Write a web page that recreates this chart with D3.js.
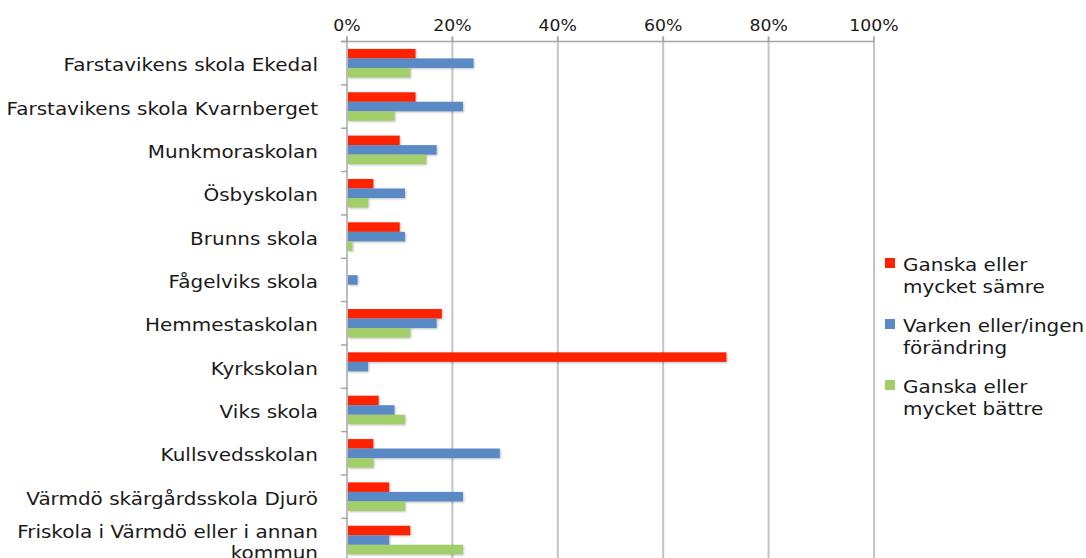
<!DOCTYPE html>
<html>
<head>
<meta charset="utf-8">
<script src="https://cdn.jsdelivr.net/npm/d3@7"></script>
<style>
  body { margin: 0; background: #fff; }
  text { font-family: 'DejaVu Sans', Verdana, sans-serif; fill: #1a1a1a; }
</style>
</head>
<body>
<div id="chart"></div>
<script>
const schools = [
  'Farstavikens skola Ekedal',
  'Farstavikens skola Kvarnberget',
  'Munkmoraskolan',
  'Ösbyskolan',
  'Brunns skola',
  'Fågelviks skola',
  'Hemmestaskolan',
  'Kyrkskolan',
  'Viks skola',
  'Kullsvedsskolan',
  'Värmdö skärgårdsskola Djurö',
  'Friskola i Värmdö eller i annan kommun'
]

const seriesNames = ['Ganska eller mycket sämre', 'Varken eller/ingen förändring', 'Ganska eller mycket bättre']
const seriesColors = ['#ff2200', '#5a8ac6', '#a3cf6a']

const worse = [13, 13, 10, 5, 10, 0, 18, 72, 6, 5, 8, 12]
const same = [24, 22, 17, 11, 11, 2, 17, 4, 9, 29, 22, 8]
const better = [12, 9, 15, 4, 1, 0, 12, 0, 11, 5, 11, 22]

const ticks = [0, 0.2, 0.4, 0.6, 0.8, 1]

const width = 1086
const height = 558
const margin = { top: 41.5, left: 347, right: 212 }
// text in the original is a bit wider than DejaVu Sans
const stretch = 1.08

const datapoints = schools.map((name, i) => ({
  name,
  values: [worse[i], same[i], better[i]]
}))

const svg = d3
  .select('#chart')
  .append('svg')
  .attr('width', width)
  .attr('height', height)

const xScale = d3
  .scaleLinear()
  .domain([0, 1])
  .range([margin.left, width - margin.right])

const yScale = d3
  .scaleBand()
  .domain(schools)
  .range([margin.top, margin.top + schools.length * 43.35])

const innerScale = d3
  .scaleBand()
  .domain(seriesNames)
  .range([0, yScale.bandwidth()])
  .paddingInner(0)
  .paddingOuter(0.78)

const plotBottom = height + 10

// grid lines
svg
  .append('g')
  .selectAll('line')
  .data(ticks.slice(1))
  .enter()
  .append('line')
  .attr('x1', d => xScale(d))
  .attr('x2', d => xScale(d))
  .attr('y1', margin.top - 5)
  .attr('y2', plotBottom)
  .attr('stroke', '#c4c4c4')
  .attr('stroke-width', 2)

// top axis line
svg
  .append('line')
  .attr('x1', xScale(0) - 6)
  .attr('x2', xScale(1))
  .attr('y1', margin.top)
  .attr('y2', margin.top)
  .attr('stroke', '#a6a6a6')
  .attr('stroke-width', 1.5)

svg
  .append('g')
  .selectAll('line')
  .data(ticks)
  .enter()
  .append('line')
  .attr('x1', d => xScale(d))
  .attr('x2', d => xScale(d))
  .attr('y1', margin.top - 5)
  .attr('y2', margin.top)
  .attr('stroke', '#a6a6a6')
  .attr('stroke-width', 1.5)

svg
  .append('g')
  .selectAll('text')
  .data(ticks)
  .enter()
  .append('text')
  .attr('transform', d => `translate(${xScale(d)},25) scale(${stretch},1)`)
  .attr('text-anchor', 'middle')
  .attr('dy', '0.35em')
  .attr('font-size', 16)
  .text(d3.format('.0%'))

// left axis
svg
  .append('line')
  .attr('x1', xScale(0))
  .attr('x2', xScale(0))
  .attr('y1', margin.top - 5)
  .attr('y2', plotBottom)
  .attr('stroke', '#a6a6a6')
  .attr('stroke-width', 1.5)

svg
  .append('g')
  .selectAll('line')
  .data(schools.concat(['end']))
  .enter()
  .append('line')
  .attr('x1', xScale(0) - 6)
  .attr('x2', xScale(0))
  .attr('y1', (d, i) => margin.top + i * yScale.step())
  .attr('y2', (d, i) => margin.top + i * yScale.step())
  .attr('stroke', '#a6a6a6')
  .attr('stroke-width', 1.5)

// bars
const groups = svg
  .append('g')
  .selectAll('g')
  .data(datapoints)
  .enter()
  .append('g')
  .attr('transform', d => `translate(0,${yScale(d.name)})`)

groups
  .selectAll('rect')
  .data(d => d.values.map((v, i) => ({ series: seriesNames[i], value: v, color: seriesColors[i] })))
  .enter()
  .append('rect')
  .attr('x', xScale(0) + 1)
  .attr('y', d => innerScale(d.series))
  .attr('width', d => Math.max(0, xScale(d.value / 100) - xScale(0) - 1))
  .attr('height', innerScale.bandwidth())
  .attr('fill', d => d.color)
  .style('filter', 'drop-shadow(1px 1px 1px rgba(0,0,0,0.25))')

// category labels
const labels = svg
  .append('g')
  .selectAll('text')
  .data(schools)
  .enter()
  .append('text')
  .attr('text-anchor', 'end')
  .attr('font-size', 18.5)
  .attr('transform', d => `translate(318,${yScale(d) + yScale.bandwidth() / 2 + 1.5}) scale(${stretch},1)`)

labels.each(function(d) {
  const el = d3.select(this)
  const lines = d.length > 33 ? ['Friskola i Värmdö eller i annan', 'kommun'] : [d]
  const lineHeight = 21
  const first = lines.length > 1 ? -10 : 0
  lines.forEach((line, i) => {
    el.append('tspan')
      .attr('x', 0)
      .attr('y', first + i * lineHeight)
      .attr('dy', '0.35em')
      .text(line)
  })
})

// legend
const legendLines = [
  ['Ganska eller', 'mycket sämre'],
  ['Varken eller/ingen', 'förändring'],
  ['Ganska eller', 'mycket bättre']
]

const legend = svg
  .append('g')
  .selectAll('g')
  .data(seriesNames)
  .enter()
  .append('g')
  .attr('transform', (d, i) => `translate(885,${258 + i * 61})`)

legend
  .append('rect')
  .attr('width', 10)
  .attr('height', 10)
  .attr('fill', (d, i) => seriesColors[i])

legend.each(function(d, i) {
  const el = d3
    .select(this)
    .append('text')
    .attr('font-size', 18.5)
    .attr('transform', `translate(18,0) scale(${stretch},1)`)
  legendLines[i].forEach((line, j) => {
    el.append('tspan')
      .attr('x', 0)
      .attr('y', 7 + j * 21.5)
      .attr('dy', '0.35em')
      .text(line)
  })
})
</script>
</body>
</html>
